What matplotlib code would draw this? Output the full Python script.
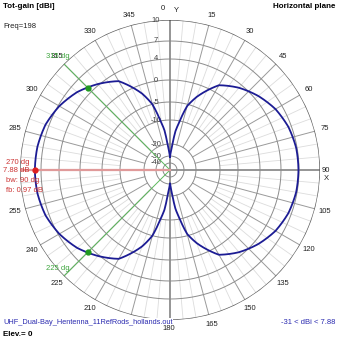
import numpy as np
import matplotlib
matplotlib.use('Agg')
import matplotlib.pyplot as plt

plt.rcParams['font.family'] = ['Liberation Sans', 'DejaVu Sans']

# radial scale of the chart (dB -> pixels of a 150 px outer radius)
scale_db = [-50, -40, -30, -20, -10, -5, 0, 4, 7, 10]
scale_r = [0, 7, 14, 26, 50, 68, 90, 111, 129, 150]
ring_db = [7, 4, 0, -5, -10, -20, -30, -40]
ring_labels = ['7', '4', '0', '-5', '-10', '-20', '-30', '-40']
outer_db = 10

# horizontal-plane total gain [dBi], azimuth in degrees
az = [0, 3, 5.5, 8, 11, 15, 20, 30, 40, 50, 60, 70, 80, 90,
      100, 110, 120, 130, 140, 150, 160, 165, 169, 172, 174.5, 177, 180,
      183, 185.5, 188, 191, 195, 200, 210, 220, 230, 240, 250, 260, 270,
      280, 290, 300, 310, 320, 330, 340, 345, 349, 352, 354.5, 357, 360]
gain = [-31, -26, -20, -14.5, -10.5, -5.5, -2.8, 1.5, 3.3, 4.7, 5.8, 6.5, 6.85, 6.91,
        6.85, 6.5, 5.8, 4.7, 3.3, 1.5, -2.8, -5.5, -10.5, -14.5, -20, -26, -31,
        -26, -20, -14, -10, -5, -2.0, 2.4, 4.2, 5.7, 6.8, 7.5, 7.8, 7.88,
        7.8, 7.5, 6.8, 5.7, 4.2, 2.4, -2.0, -5, -10, -14, -20, -26, -31]

max_az, max_gain = 270, 7.88
hp_az = [315, 225]
hp_gain = 4.88


def fwd(x):
    return np.interp(x, scale_db, np.array(scale_r) / 150.0)


def inv(y):
    return np.interp(y, np.array(scale_r) / 150.0, scale_db)


W = 339
fig = plt.figure(figsize=(W / 100, W / 100), dpi=100)
ax = fig.add_axes([20 / W, 19 / W, 300 / W, 300 / W], projection='polar')
ax.set_theta_zero_location('N')
ax.set_theta_direction(-1)
ax.set_yscale('function', functions=(fwd, inv))
ax.set_ylim(-50, outer_db)
ax.axis('off')

full = np.linspace(0, 2 * np.pi, 721)

# radial lines
for a in range(0, 360, 5):
    th = np.deg2rad(a)
    if a % 90 == 0:
        ax.plot([th, th], [-50, outer_db], color='#8c8c8c', lw=1.3, zorder=2)
    elif a % 15 == 0:
        ax.plot([th, th], [-20, outer_db], color='#9a9a9a', lw=0.7, zorder=1)
    else:
        ax.plot([th, th], [-10, outer_db], color='#dcdcdc', lw=0.6, zorder=1)

# rings
for d in ring_db:
    ax.plot(full, np.full_like(full, d), color='#8c8c8c', lw=0.7, zorder=1)
ax.plot(full, np.full_like(full, outer_db), color='#606060', lw=1.0, zorder=2)

# ring labels
for d, lab in zip([outer_db] + ring_db, ['10'] + ring_labels):
    ax.annotate(lab, xy=(0, d), xytext=(-10, 0), textcoords='offset points',
                ha='center', va='center', fontsize=5.5, color='#404040', zorder=3)

# angle labels
for a in range(15, 360, 15):
    if a in (90, 180, 270):
        continue
    t = np.deg2rad(a)
    ax.text(0.5 + 0.5 * 160 / 150 * np.sin(t), 0.5 + 0.5 * 160 / 150 * np.cos(t), str(a),
            transform=ax.transAxes, ha='center', va='center', fontsize=5.5, color='#202020')


def px(x, y):
    return x / W, 1 - y / W


fig.text(*px(163, 8), '0', ha='center', va='center', fontsize=5.5, color='#202020')
fig.text(*px(176, 10), 'Y', ha='center', va='center', fontsize=5.5, color='#202020')
fig.text(*px(326, 170), '90', ha='center', va='center', fontsize=5.5, color='#202020')
fig.text(*px(326, 179), 'X', ha='center', va='center', fontsize=5.5, color='#202020')
fig.text(*px(169, 328), '180', ha='center', va='center', fontsize=5.5, color='#202020', zorder=12)

# half-power / max markers
for a in hp_az:
    th = np.deg2rad(a)
    ax.plot([th, th], [-50, outer_db], color='#5cb85c', lw=0.7, zorder=3)
    ax.plot(th, hp_gain, 'o', color='#1f9a1f', ms=3.5, zorder=5)
th = np.deg2rad(max_az)
ax.plot([th, th], [-50, outer_db], color='#e09a9a', lw=1.6, zorder=3)
ax.plot([0, 20 / W], [169 / W, 169 / W], transform=fig.transFigure, color='#e09a9a', lw=1.6)

# pattern (drawn along arcs between the read points)
line, = ax.plot(np.deg2rad(az), gain, color='#1c1c94', lw=1.3, zorder=4)
line.get_path()._interpolation_steps = 30
ax.plot(th, max_gain, 'o', color='#e02020', ms=3.5, zorder=6)

green = '#3fa63f'
fig.text(*px(58, 57), '315 dg', ha='center', va='center', fontsize=5.5, color=green)
fig.text(*px(58, 269), '225 dg', ha='center', va='center', fontsize=5.5, color=green)

red = '#cc3333'
fig.text(*px(6, 162), '270 dg', ha='left', va='center', fontsize=5.5, color=red)
fig.text(*px(3, 171), '7.88 dB', ha='left', va='center', fontsize=5.5, color=red)
fig.text(*px(6, 181), 'bw: 90 dg', ha='left', va='center', fontsize=5.5, color=red)
fig.text(*px(6, 190), 'fb: 0.97 dB', ha='left', va='center', fontsize=5.5, color=red)

fig.text(*px(3, 7), 'Tot-gain [dBi]', ha='left', va='center', fontsize=5.8, fontweight='bold')
fig.text(*px(3, 27), 'Freq=198', ha='left', va='center', fontsize=5.5, color='#202020')
fig.text(*px(335, 7), 'Horizontal plane', ha='right', va='center', fontsize=5.8, fontweight='bold')
fig.text(*px(3, 322), 'UHF_Dual-Bay_Hentenna_11RefRods_hollands.out', ha='left', va='center',
         fontsize=5.3, color='#2b2bb0', zorder=10,
         bbox=dict(facecolor='white', edgecolor='none', pad=0.3))
fig.text(*px(3, 334), 'Elev.= 0', ha='left', va='center', fontsize=5.8, fontweight='bold')
fig.text(*px(335, 323), '-31 < dBi < 7.88', ha='right', va='center', fontsize=5.5, color='#2b2bb0')

fig.savefig('out.png', dpi=100, facecolor='white')
